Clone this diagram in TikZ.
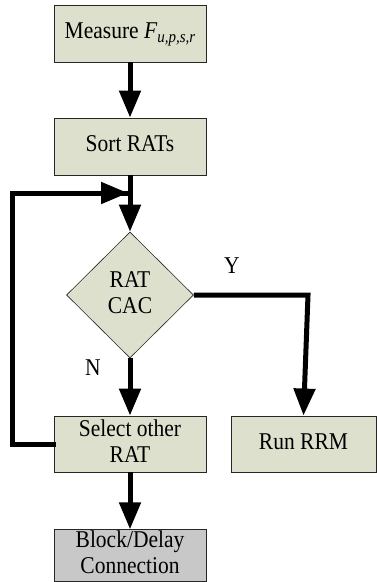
\documentclass[tikz,border=0pt]{standalone}
\usepackage{fontspec}
\usepackage{graphicx}
\setmainfont{Liberation Serif}
\usetikzlibrary{shapes.geometric,arrows.meta}
\definecolor{boxgreen}{RGB}{221,224,204}
\definecolor{boxgray}{RGB}{200,200,200}
\newcommand{\stxt}[1]{\scalebox{1}[1.12]{\begin{tabular}{@{}c@{}}#1\end{tabular}}}
\begin{document}
\begin{tikzpicture}[x=1pt,y=-1pt,
  txt/.style={font=\fontsize{21.5}{23}\selectfont},
  procbox/.style={draw=black!85,line width=0.9pt,fill=boxgreen,rectangle,inner sep=0pt,align=center,txt},
  decbox/.style={draw=black!85,line width=0.6pt,fill=boxgreen,diamond,inner sep=0pt,align=center,txt},
  flow/.style={line width=5pt,-{Triangle[length=27pt,width=21pt]}},
  flowline/.style={line width=5pt,line cap=rect},
  lbl/.style={txt}]
\useasboundingbox (0,0) rectangle (377,582);
\node[procbox,minimum width=152pt,minimum height=57pt] (measure) at (130,33.5) {\stxt{Measure \textit{F}\raisebox{-0.35ex}{\fontsize{15}{17}\selectfont\itshape u,p,s,r}}};
\node[procbox,minimum width=152pt,minimum height=57pt] (sort) at (130,146.5) {\stxt{Sort RATs}};
\node[decbox,minimum width=127pt,minimum height=126pt] (cac) at (130,295) {\stxt{RAT\\CAC}};
\node[procbox,minimum width=152pt,minimum height=56pt] (select) at (130,444) {\stxt{Select other\\RAT}};
\node[procbox,minimum width=145pt,minimum height=56pt] (rrm) at (303.5,444) {\stxt{Run RRM}};
\node[procbox,fill=boxgray,minimum width=152pt,minimum height=51pt] (block) at (130,555.5) {\stxt{Block/Delay\\Connection}};
\coordinate (join) at (130,193);
\coordinate (lb) at (12,444);
\coordinate (lt) at (12,193);
\coordinate (yc) at (308,295);
\draw[flow] (measure) -- (sort);
\draw[flow] (sort) -- (cac);
\draw[flowline] (select.west) -- (lb) -- (lt) -- ([xshift=-2pt]join);
\draw[flow] (lt) -- ([xshift=-2pt]join);
\draw[flow] (cac.east) -- (yc) -- (rrm.north);
\draw[flow] (cac) -- (select);
\draw[flow] (select) -- (block);
\node[lbl] (ylab) at (232,268) {\stxt{Y}};
\node[lbl] (nlab) at (93,370) {\stxt{N}};
\end{tikzpicture}
\end{document}
